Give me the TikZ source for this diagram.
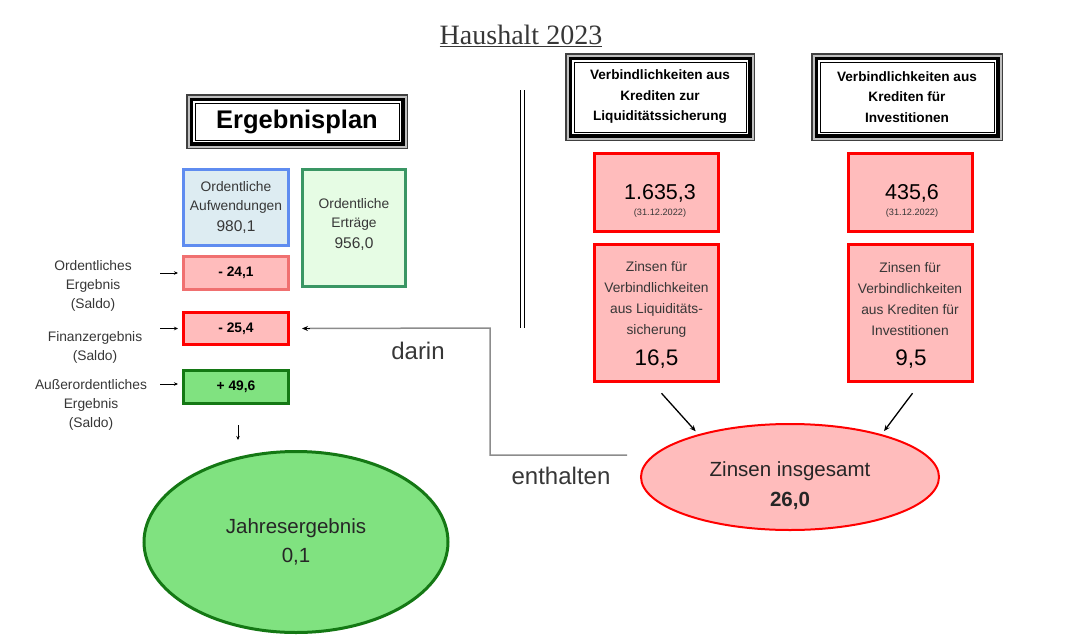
\documentclass[tikz,border=0pt]{standalone}
\usepackage{fontspec}
\setmainfont{Liberation Sans}
\newfontfamily\titlefont{Liberation Serif}
\usetikzlibrary{shapes.geometric,arrows.meta}
\definecolor{txt}{RGB}{55,55,55}
\definecolor{blueB}{RGB}{95,140,240}
\definecolor{blueF}{RGB}{221,236,242}
\definecolor{sgreenB}{RGB}{58,150,100}
\definecolor{sgreenF}{RGB}{230,252,228}
\definecolor{lredB}{RGB}{240,112,112}
\definecolor{redB}{RGB}{255,0,0}
\definecolor{redF}{RGB}{255,188,188}
\definecolor{dgreenB}{RGB}{20,120,20}
\definecolor{greenF}{RGB}{128,226,128}
\definecolor{conn}{RGB}{140,140,140}
\newcommand\fsz[2]{\fontsize{#1}{#2}\selectfont}
\begin{document}
\begin{tikzpicture}[x=1pt,y=-1pt,
  framebox/.style={draw=black, line width=1pt, fill=white, inner sep=0pt, align=center,
    preaction={draw=black!75, line width=18pt},
    preaction={draw=black!25, line width=15pt},
    preaction={draw=black, line width=11pt},
    preaction={draw=white, line width=4pt}},
  box/.style={rectangle, inner sep=0pt, align=center, text=txt},
  lab/.style={align=center, text=txt, font=\fsz{13.8}{19}},
  arr/.style={-{Stealth[length=6pt,width=5pt]}, line width=1.3pt, black},
  smallarr/.style={-{Stealth[length=4pt,width=3.5pt]}, line width=0.9pt, black}
]
\useasboundingbox (0,0) rectangle (1080,643);

% title
\node[font=\titlefont\fsz{28}{32}, text=txt] (title) at (521,36) {\underline{Haushalt 2023}};

% Ergebnisplan header
\node[framebox, minimum width=204, minimum height=37, font=\bfseries\fsz{25.5}{28}] (plan) at (297,121.5) {Ergebnisplan};

% left boxes
\node[box, draw=blueB, fill=blueF, line width=3pt, minimum width=105, minimum height=76,
      font=\fsz{13.8}{19}] (aufw) at (236,207.5)
      {Ordentliche\\Aufwendungen\\[2pt]{\fsz{15.5}{19}980,1}};
\node[box, draw=sgreenB, fill=sgreenF, line width=3.5pt, minimum width=103, minimum height=117] (ertr) at (354,228) {};
\node[lab] (ertrtxt) at (354,224) {Ordentliche\\Erträge\\[2pt]{\fsz{15.5}{19}956,0}};

\node[box, draw=lredB, fill=redF, line width=3pt, minimum width=105, minimum height=33,
      font=\bfseries\fsz{13.8}{16}, text=black] (m1) at (236,273) {- 24,1};
\node[box, draw=redB, fill=redF, line width=3pt, minimum width=105, minimum height=32,
      font=\bfseries\fsz{13.8}{16}, text=black] (m2) at (236,328.5) {- 25,4};
\node[box, draw=dgreenB, fill=greenF, line width=3pt, minimum width=105, minimum height=33,
      font=\bfseries\fsz{13.8}{16}, text=black] (m3) at (236,387) {+ 49,6};

% left labels
\node[lab] (l1) at (93,286) {Ordentliches\\Ergebnis\\(Saldo)};
\node[lab] (l2) at (95,347) {Finanzergebnis\\(Saldo)};
\node[lab] (l3) at (91,404.5) {Außerordentliches\\Ergebnis\\(Saldo)};

\draw[smallarr] ([xshift=-22pt]m1.west) -- ([xshift=-4pt]m1.west);
\draw[smallarr] ([xshift=-22pt]m2.west) -- ([xshift=-4pt]m2.west);
\draw[smallarr] ([xshift=-22pt,yshift=3pt]m3.west) -- ([xshift=-4pt,yshift=3pt]m3.west);

% Jahresergebnis
\node[ellipse, draw=dgreenB, fill=greenF, line width=3pt, minimum width=304, minimum height=181,
      inner sep=0pt, align=center, font=\fsz{20.5}{29}, text=black!85] (jahr) at (296,542)
      {Jahresergebnis\\0,1};
\draw[smallarr] ([xshift=2pt,yshift=-20pt]m3.south) -- ([xshift=2pt,yshift=-35pt]m3.south);

% separator
\draw[double, double distance=3pt, line width=1.3pt] (522.5,90) -- (522.5,328);

% right headers
\node[framebox, minimum width=172, minimum height=70, font=\bfseries\fsz{13.6}{20.5}] (h1) at (660,97)
  {Verbindlichkeiten aus\\Krediten zur\\Liquiditätssicherung};
\node[framebox, minimum width=174, minimum height=70, font=\bfseries\fsz{13.6}{20.5}] (h2) at (907,97)
  {Verbindlichkeiten aus\\Krediten für\\Investitionen};

% right boxes
\node[box, draw=redB, fill=redF, line width=3.5pt, minimum width=124, minimum height=78] (b1) at (656.5,192.5) {};
\node[box, draw=redB, fill=redF, line width=3.5pt, minimum width=124, minimum height=78] (b2) at (910.5,192.5) {};
\node[font=\fsz{21.5}{24}, text=black] (b1v) at (660,193) {1.635,3};
\node[font=\fsz{9.2}{10}, text=txt] (b1d) at (660,213) {(31.12.2022)};
\node[font=\fsz{21.5}{24}, text=black] (b2v) at (912,193) {435,6};
\node[font=\fsz{9.2}{10}, text=txt] (b2d) at (912,213) {(31.12.2022)};

\node[box, draw=redB, fill=redF, line width=3.5pt, minimum width=124, minimum height=137] (z1) at (656.5,313) {};
\node[box, draw=redB, fill=redF, line width=3.5pt, minimum width=124, minimum height=137] (z2) at (910.5,313) {};
\node[lab, font=\fsz{13.8}{21}] (z1t) at (656.5,299.5) {Zinsen für\\Verbindlichkeiten\\aus Liquiditäts-\\sicherung};
\node[font=\fsz{22.5}{24}, text=black] (z1v) at (656.5,359) {16,5};
\node[lab, font=\fsz{13.8}{21}] (z2t) at (910,299.5) {Zinsen für\\Verbindlichkeiten\\aus Krediten für\\Investitionen};
\node[font=\fsz{22.5}{24}, text=black] (z2v) at (911,359) {9,5};

% Zinsen insgesamt
\node[ellipse, draw=redB, fill=redF, line width=2pt, minimum width=298, minimum height=106,
      inner sep=0pt] (zins) at (790,477) {};
\node[align=center, font=\fsz{20.5}{30}, text=black!85] (zinst) at (790,486) {Zinsen insgesamt\\\textbf{26,0}};
\draw[arr, shorten >=4pt] ([xshift=5pt,yshift=-10pt]z1.south) -- (zins.155);
\draw[arr, shorten >=4pt] ([xshift=2pt,yshift=-10pt]z2.south) -- (zins.25);

% gray connector
\coordinate (gs) at (627,455);
\coordinate (gc1) at (490,455);
\coordinate (gc2) at (490,328);
\draw[conn, line width=1.5pt] (gs) -- (gc1) -- (gc2) -- ([xshift=18pt]m2.east);
\draw[arr, line width=1pt] ([xshift=20pt]m2.east) -- ([xshift=12pt]m2.east);

\node[font=\fsz{24}{26}, text=txt] (darin) at (418,351) {darin};
\node[font=\fsz{24}{26}, text=txt] (enth) at (561,476) {enthalten};
\end{tikzpicture}
\end{document}
